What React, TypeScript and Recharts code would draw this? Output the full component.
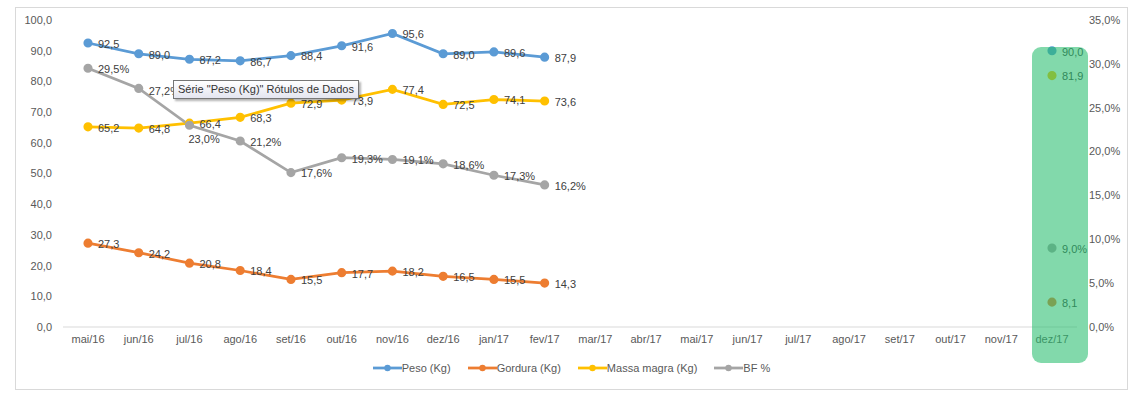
import React from 'react';
import { LineChart, Line, XAxis, YAxis, Legend, LabelList, ReferenceDot } from 'recharts';

const months = [
  'mai/16', 'jun/16', 'jul/16', 'ago/16', 'set/16', 'out/16', 'nov/16', 'dez/16', 'jan/17', 'fev/17',
  'mar/17', 'abr/17', 'mai/17', 'jun/17', 'jul/17', 'ago/17', 'set/17', 'out/17', 'nov/17', 'dez/17'
];
const peso = [92.5, 89.0, 87.2, 86.7, 88.4, 91.6, 95.6, 89.0, 89.6, 87.9, null, null, null, null, null, null, null, null, null, 90.0];
const gordura = [27.3, 24.2, 20.8, 18.4, 15.5, 17.7, 18.2, 16.5, 15.5, 14.3, null, null, null, null, null, null, null, null, null, 8.1];
const massaMagra = [65.2, 64.8, 66.4, 68.3, 72.9, 73.9, 77.4, 72.5, 74.1, 73.6, null, null, null, null, null, null, null, null, null, 81.9];
const bf = [29.5, 27.2, 23.0, 21.2, 17.6, 19.3, 19.1, 18.6, 17.3, 16.2, null, null, null, null, null, null, null, null, null, 9.0];

const leftTicks = [0, 10, 20, 30, 40, 50, 60, 70, 80, 90, 100];
const rightTicks = [0, 5, 10, 15, 20, 25, 30, 35];

const data = months.map((month, i) => ({
  month,
  peso: peso[i],
  gordura: gordura[i],
  massaMagra: massaMagra[i],
  bf: bf[i],
}));

const FONT = '"Liberation Sans", Arial, sans-serif';
const COLORS = { peso: '#5B9BD5', gordura: '#ED7D31', massaMagra: '#FFC000', bf: '#A5A5A5' };

const fmt = (v: number) => v.toFixed(1).replace('.', ',');

// label to the right of the point, with a few nudges where Excel moved them
const makeLabel = (suffix: string, nudges: Record<number, [number, number]> = {}) => (props: any) => {
  const { x, y, value, index } = props;
  if (value == null) return null;
  const [dx, dy] = nudges[index] || [10, 1];
  return (
    <text x={x + dx} y={y + dy} dy="0.35em" fontSize={11} fontFamily={FONT} fill="#404040">
      {fmt(Number(value)) + suffix}
    </text>
  );
};

const legendItems = [
  { key: 'peso', name: 'Peso (Kg)' },
  { key: 'gordura', name: 'Gordura (Kg)' },
  { key: 'massaMagra', name: 'Massa magra (Kg)' },
  { key: 'bf', name: 'BF %' },
];

const renderLegend = () => (
  <div style={{ display: 'flex', justifyContent: 'center', gap: 17, fontFamily: FONT, fontSize: 11, color: '#595959' }}>
    {legendItems.map(it => (
      <div key={it.key} style={{ display: 'flex', alignItems: 'center' }}>
        <svg width={29} height={10}>
          <line x1={0} y1={5} x2={29} y2={5} stroke={(COLORS as any)[it.key]} strokeWidth={2.75} />
          <circle cx={14.5} cy={5} r={3.2} fill={(COLORS as any)[it.key]} />
        </svg>
        <span>{it.name}</span>
      </div>
    ))}
  </div>
);

const GoalBox = (props: any) => {
  const { cx, cy } = props;
  if (cx == null || cy == null) return null;
  return <rect x={cx - 20} y={cy + 27} width={56} height={316} rx={9} fill="rgba(40,190,110,0.58)" />;
};

const dotStyle = (c: string) => ({ r: 3.2, fill: c, stroke: c });

const App: React.FC = () => {
  return (
    <div
      style={{
        position: 'absolute',
        left: 15,
        top: 7,
        width: 1111,
        height: 381,
        border: '1px solid #D9D9D9',
        background: '#fff',
        fontFamily: FONT,
      }}
    >
      <LineChart width={1111} height={381} data={data} margin={{ top: 12, right: 0, bottom: 32, left: 0 }}>
        <XAxis
          dataKey="month"
          interval={0}
          padding={{ left: 25, right: 25 }}
          tickLine={false}
          axisLine={{ stroke: '#D9D9D9' }}
          tick={{ fontSize: 11, fill: '#595959', fontFamily: FONT }}
          height={30}
        />
        <YAxis
          yAxisId="left"
          domain={[0, 100]}
          ticks={leftTicks}
          tickFormatter={fmt}
          axisLine={false}
          tickLine={false}
          tickMargin={5}
          width={47}
          tick={{ fontSize: 11, fill: '#595959', fontFamily: FONT }}
        />
        <YAxis
          yAxisId="right"
          orientation="right"
          domain={[0, 35]}
          ticks={rightTicks}
          tickFormatter={(v: number) => fmt(v) + '%'}
          axisLine={false}
          tickLine={false}
          tickMargin={6}
          width={50}
          tick={{ fontSize: 11, fill: '#595959', fontFamily: FONT, textAnchor: 'start' }}
        />
        <Line yAxisId="left" dataKey="peso" name="Peso (Kg)" stroke={COLORS.peso} strokeWidth={2.75}
          dot={dotStyle(COLORS.peso)} isAnimationActive={false}>
          <LabelList dataKey="peso" content={makeLabel('')} />
        </Line>
        <Line yAxisId="left" dataKey="gordura" name="Gordura (Kg)" stroke={COLORS.gordura} strokeWidth={2.75}
          dot={dotStyle(COLORS.gordura)} isAnimationActive={false}>
          <LabelList dataKey="gordura" content={makeLabel('')} />
        </Line>
        <Line yAxisId="left" dataKey="massaMagra" name="Massa magra (Kg)" stroke={COLORS.massaMagra} strokeWidth={2.75}
          dot={dotStyle(COLORS.massaMagra)} isAnimationActive={false}>
          <LabelList dataKey="massaMagra" content={makeLabel('')} />
        </Line>
        <Line yAxisId="right" dataKey="bf" name="BF %" stroke={COLORS.bf} strokeWidth={2.75}
          dot={dotStyle(COLORS.bf)} isAnimationActive={false}>
          <LabelList dataKey="bf" content={makeLabel('%', { 1: [10, 3], 2: [-1, 14] })} />
        </Line>
        <ReferenceDot
          yAxisId="left"
          x="dez/17"
          y={100}
          ifOverflow="visible"
          shape={GoalBox}
          zIndex={2500}
        />
        <Legend
          verticalAlign="middle"
          align="center"
          content={renderLegend}
          wrapperStyle={{ top: 354, left: 0, width: 1111 }}
        />
      </LineChart>
      <div
        style={{
          position: 'absolute',
          left: 157,
          top: 72,
          height: 17,
          lineHeight: '17px',
          padding: '0 4px',
          border: '1px solid #767676',
          background: 'linear-gradient(#ffffff, #e4e5f0)',
          boxShadow: '2px 2px 2px rgba(0,0,0,0.3)',
          fontSize: 11,
          color: '#333',
          whiteSpace: 'nowrap',
        }}
      >
        Série "Peso (Kg)" Rótulos de Dados
      </div>
    </div>
  );
};

export default App;
